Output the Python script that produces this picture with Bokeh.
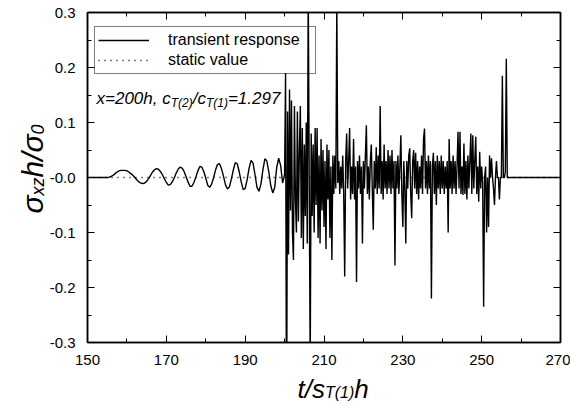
import numpy as np
from bokeh.plotting import figure
from bokeh.models import (Label, Legend, LegendItem, LinearAxis, FixedTicker,
                          CustomJSTickFormatter, GridBox)
from bokeh.embed import file_html
from bokeh.resources import INLINE

# ---------------- data ----------------
x_ticks = [150, 170, 190, 210, 230, 250, 270]
x_tick_labels = ["150", "170", "190", "210", "230", "250", "270"]
x_minor_ticks = [160, 180, 200, 220, 240, 260]
y_ticks = [-0.3, -0.2, -0.1, 0.0, 0.1, 0.2, 0.3]
y_tick_labels = ["-0.3", "-0.2", "-0.1", "-0.0", "0.1", "0.2", "0.3"]
y_minor_ticks = [-0.25, -0.15, -0.05, 0.05, 0.15, 0.25]

# early smooth part, t = 150 ... 200 every 0.5
osc_t0, osc_dt = 150.0, 0.5
osc_vals = [
    0, 0, 0, 0, 0, 0, 0, 0, 0, 0,
    0, 0.0005, 0.002, 0.004, 0.007, 0.010, 0.012, 0.013, 0.013, 0.013,
    0.012, 0.010, 0.007, 0.004, 0.000, -0.004, -0.008, -0.010, -0.011, -0.010,
    -0.007, -0.002, 0.004, 0.010, 0.014, 0.016, 0.015, 0.011, 0.005, -0.002,
    -0.009, -0.014, -0.013, -0.008, -0.001, 0.008, 0.015, 0.019, 0.017, 0.011,
    0.002, -0.008, -0.016, -0.016, -0.009, 0.001, 0.012, 0.020, 0.019, 0.011,
    -0.001, -0.014, -0.018, -0.012, 0.000, 0.014, 0.024, 0.025, 0.016, 0.002,
    -0.013, -0.021, -0.017, -0.003, 0.014, 0.027, 0.025, 0.010, -0.008, -0.022,
    -0.020, -0.004, 0.017, 0.031, 0.026, 0.005, -0.018, -0.025, -0.012, 0.014,
    0.034, 0.030, 0.010, -0.015, -0.028, -0.018, 0.018, 0.035, 0.022, -0.010,
    0.005,
]

# irregular part, t = 200.25 ... 257.0 every 0.25 (one row per unit of t)
irr_t0, irr_dt = 200.25, 0.25
irr_vals = [
    0.19, -0.50, 0.12, -0.14,      # 200
    0.16, -0.06, 0.14, -0.10,      # 201
    -0.15, 0.13, -0.04, -0.10,     # 202
    0.12, -0.08, 0.05, 0.13,       # 203
    -0.11, 0.09, -0.13, 0.06,      # 204
    -0.07, 0.10, -0.12, 0.35,      # 205
    0.0, -0.35, 0.08, -0.07,       # 206
    0.06, -0.10, 0.09, -0.05,      # 207
    0.09, -0.11, 0.04, -0.12,      # 208
    0.07, -0.06, 0.05, -0.09,      # 209
    0.03, -0.13, 0.06, -0.04,      # 210
    0.05, -0.11, 0.02, -0.15,      # 211
    0.04, -0.03, 0.04, -0.02,      # 212
    0.32, -0.01, 0.03, -0.03,      # 213
    0.02, -0.02, 0.04, -0.03,      # 214
    -0.18, 0.03, 0.08, -0.02,      # 215
    0.03, 0.09, -0.04, 0.02,       # 216
    -0.03, 0.07, -0.04, 0.02,      # 217
    -0.19, 0.03, -0.02, 0.04,      # 218
    -0.03, 0.02, -0.12, 0.03,      # 219
    -0.02, 0.04, 0.095, -0.03,     # 220
    0.02, -0.04, 0.03, 0.06,       # 221
    -0.02, -0.095, 0.03, -0.02,    # 222
    0.055, -0.03, 0.04, -0.02,     # 223
    0.13, -0.03, 0.03, -0.04,      # 224
    0.06, -0.02, 0.03, -0.03,      # 225
    0.05, -0.02, 0.04, -0.03,      # 226
    0.05, -0.02, 0.03, -0.16,      # 227
    0.03, -0.02, 0.04, -0.03,      # 228
    0.02, 0.077, -0.03, -0.09,     # 229
    0.03, -0.02, -0.12, 0.03,      # 230
    -0.02, 0.04, 0.053, -0.03,     # 231
    -0.074, 0.03, 0.05, -0.02,     # 232
    0.045, -0.03, 0.03, -0.04,     # 233
    0.02, -0.02, 0.04, -0.03,      # 234
    0.07, 0.089, -0.02, 0.03,      # 235
    -0.03, 0.04, -0.02, 0.03,      # 236
    -0.22, 0.02, 0.045, -0.03,     # 237
    0.03, -0.05, 0.04, -0.02,      # 238
    0.03, -0.03, 0.04, -0.02,      # 239
    0.03, -0.03, 0.02, -0.02,      # 240
    0.03, -0.10, 0.07, -0.02,      # 241
    0.03, -0.03, 0.04, -0.02,      # 242
    0.03, -0.03, 0.02, 0.083,      # 243
    -0.02, 0.083, -0.03, 0.02,     # 244
    -0.032, 0.062, -0.03, 0.03,    # 245
    -0.04, 0.04, -0.02, 0.03,      # 246
    0.08, -0.03, 0.077, -0.02,     # 247
    0.03, 0.074, -0.03, 0.02,      # 248
    -0.044, 0.047, -0.02, 0.02,    # 249
    -0.01, -0.235, 0.0, 0.02,      # 250
    -0.10, 0.0, -0.09, 0.04,       # 251
    0.0, 0.035, 0.0, -0.02,        # 252
    -0.05, 0.0, 0.03, 0.0,         # 253
    0.0, -0.04, 0.0, 0.0,          # 254
    0.185, 0.0, 0.0, 0.01,         # 255
    0.216, 0.0, 0.0, 0.0,          # 256
]

# quiet tail
tail_t = [270.0]
tail_vals = [0.0]

static_t = [150.0, 270.0]
static_vals = [0.0, 0.0]

# ---------------- assemble ----------------
osc_t = osc_t0 + osc_dt * np.arange(len(osc_vals))
irr_t = irr_t0 + irr_dt * np.arange(len(irr_vals))
trans_t = np.concatenate([osc_t, irr_t, tail_t])
trans_v = np.concatenate([osc_vals, irr_vals, tail_vals])

FONT = "Liberation Sans"
W, H = 570, 404

p = figure(width=W, height=H, x_range=(150, 270), y_range=(-0.3, 0.3),
           output_backend="svg", toolbar_location=None,
           min_border_left=87, min_border_right=10, min_border_top=12,
           min_border_bottom=62, background_fill_color="white",
           border_fill_color="white")
p.frame_align = False
p.grid.visible = False
p.outline_line_color = "black"
p.outline_line_width = 1.5

xt = FixedTicker(ticks=x_ticks, minor_ticks=x_minor_ticks)
yt = FixedTicker(ticks=y_ticks, minor_ticks=y_minor_ticks)

def style_axis(ax):
    ax.axis_line_color = "black"
    ax.axis_line_width = 1.5
    ax.major_tick_in = 7
    ax.major_tick_out = 0
    ax.minor_tick_in = 4
    ax.minor_tick_out = 0
    ax.major_tick_line_color = "black"
    ax.minor_tick_line_color = "black"
    ax.major_label_text_font = FONT
    ax.major_label_text_font_size = "15px"
    ax.major_label_text_color = "black"

p.xaxis.ticker = xt
p.yaxis.ticker = yt
p.xaxis.major_label_overrides = {t: s for t, s in zip(x_ticks, x_tick_labels)}
p.yaxis.major_label_overrides = {float(t): s for t, s in zip(y_ticks, y_tick_labels)}
for ax in (p.xaxis[0], p.yaxis[0]):
    style_axis(ax)
    ax.major_label_standoff = 12

for loc, tk in (("right", yt), ("above", xt)):
    ax = LinearAxis(ticker=tk, formatter=CustomJSTickFormatter(code="return ''"))
    style_axis(ax)
    ax.major_label_text_font_size = "0px"
    ax.major_label_standoff = 0
    p.add_layout(ax, loc)

r_static = p.line(static_t, static_vals, line_color="black", line_width=1.3,
                  line_dash="1 5")
r_trans = p.line(trans_t, trans_v, line_color="black", line_width=1.4)

legend = Legend(items=[LegendItem(label="transient response", renderers=[r_trans]),
                       LegendItem(label="static value", renderers=[r_static])],
                location=(7, 268), glyph_width=51, glyph_height=20,
                label_standoff=19, padding=3, spacing=0, margin=0,
                label_width=144, label_height=20,
                border_line_color="black", border_line_width=1,
                background_fill_alpha=0,
                label_text_font=FONT, label_text_font_size="16px",
                label_text_color="black")
p.add_layout(legend)

# ---------- transparent overlay carrying the mixed-size texts ----------
ov = figure(width=W, height=H, output_backend="svg", toolbar_location=None,
            min_border=0, x_axis_location=None, y_axis_location=None,
            background_fill_alpha=0, border_fill_alpha=0,
            outline_line_color=None)
ov.frame_align = False
ov.grid.visible = False

ADV = {'t': 278, '/': 278, 's': 500, 'h': 556, 'T': 611, '(': 333, ')': 333,
       '0': 556, '1': 556, '2': 556, '7': 556, '9': 556, 'x': 500, 'z': 500,
       '=': 584, ',': 278, ' ': 278, 'c': 500, '.': 278, 'σ': 600}

def adv(s, size):
    return sum(ADV.get(c, 556) for c in s) / 1000.0 * size

def rich(pieces, px, py, vertical=False):
    """px, py: page pixel position of the start of the main baseline."""
    pos = px if not vertical else py
    for text, size, drop in pieces:
        if vertical:
            lab = Label(x=px + drop, y=H - pos, angle=np.pi / 2)
            pos -= adv(text, size)
        else:
            lab = Label(x=pos, y=H - (py + drop))
            pos += adv(text, size)
        lab.update(x_units="screen", y_units="screen", text=text,
                   text_font=FONT, text_font_size=f"{size}px",
                   text_font_style="italic", text_color="black",
                   text_align="left", text_baseline="alphabetic")
        ov.add_layout(lab)

# annotation
rich([("x=200h, c", 17, 0), ("T(2)", 12, 4), ("/c", 17, 0), ("T(1)", 12, 4),
      ("=1.297", 17, 0)], 96, 98)
# x axis title
rich([("t/s", 26, 0), ("T(1)", 16, 4), ("h", 26, 0)], 297, 388)
# y axis title (rotated, reads upward)
rich([("σ", 30, 0), ("xz", 18, 5), ("h/σ", 30, 0), ("0", 18, 5)], 32, 213,
     vertical=True)

layout = GridBox(children=[(p, 0, 0), (ov, 0, 0)])
open("out.html", "w").write(file_html(layout, INLINE))
